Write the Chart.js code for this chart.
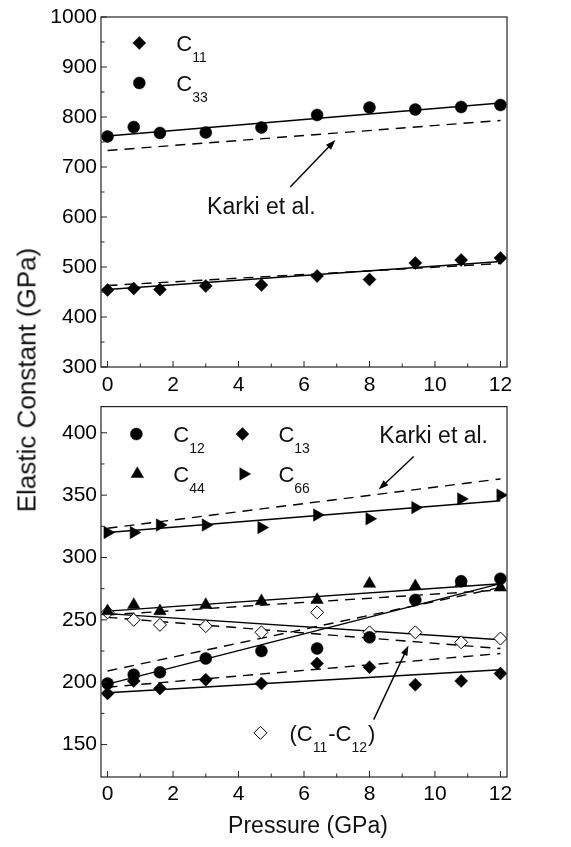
<!DOCTYPE html>
<html lang="en">
<head>
  <meta charset="UTF-8" />
  <script src="https://cdn.jsdelivr.net/npm/chart.js"></script>
  <title>Elastic constants vs pressure</title>
  <style>
    body { margin: 0; background: #fff; }
    .wrap { position: relative; width: 571px; height: 847px; font-family: "Liberation Sans", Arial, sans-serif; }
    canvas { position: absolute; left: 0; }
    #topChart { top: 0; }
    #bottomChart { top: 390px; }
    .ytitle { position: absolute; left: 27px; top: 380px; transform: translate(-50%, -50%) rotate(-90deg); font-size: 26px; white-space: nowrap; color: #111; }
    .xtitle { position: absolute; left: 308px; top: 825px; transform: translate(-50%, -50%); font-size: 23px; white-space: nowrap; color: #111; }
  </style>
</head>
<body>
  <div class="wrap">
    <canvas id="topChart" width="571" height="400"></canvas>
    <canvas id="bottomChart" width="571" height="457"></canvas>
    <div class="ytitle">Elastic Constant (GPa)</div>
    <div class="xtitle">Pressure (GPa)</div>
  </div>

<script>
  // pressure points (GPa)
  var pressure = [0, 0.8, 1.6, 3.0, 4.7, 6.4, 8.0, 9.4, 10.8, 12.0]

  // top panel
  var c11 = [454, 457, 455, 462, 464, 482, 475, 508, 514, 518]
  var c33 = [761, 780, 768, 769, 779, 804, 819, 815, 820, 824]

  // bottom panel
  var c12 = [199, 206, 208, 219, 225, 227, 236, 266, 281, 283]
  var c13 = [191, 201, 195, 202, 199, 215, 212, 198, 201, 207]
  var c44 = [257, 262, 257, 262, 265, 266, 279, 277, 280, 276]
  var c66 = [320, 320, 326, 326, 324, 334, 331, 340, 347, 350]
  var c11mc12 = [256, 250, 246, 245, 240, 256, 240, 240, 232, 235]

  // linear fits (this work, solid) and Karki et al. (dashed), values at 0 and 12 GPa
  var fitX = [0, 12]
  var c11Fit = [455, 511], c11Karki = [463, 507]
  var c33Fit = [762, 828], c33Karki = [733, 793]
  var c12Fit = [198.5, 279], c12Karki = [209, 276]
  var c13Fit = [191.5, 210], c13Karki = [196, 223]
  var c44Fit = [257, 279], c44Karki = [254, 274]
  var c66Fit = [320, 345.5], c66Karki = [323.5, 363]
  var c11mc12Fit = [255, 234], c11mc12Karki = [252, 227]

  // tick labels
  var xTicks = [0, 2, 4, 6, 8, 10, 12]
  var topYTicks = [300, 400, 500, 600, 700, 800, 900, 1000]
  var bottomYTicks = [150, 200, 250, 300, 350, 400]

  var FONT = '"Liberation Sans", Arial, sans-serif'

  function pts(xs, ys) {
    return xs.map((v, i) => ({ x: v, y: ys[i] }))
  }

  function markers(ys, style, radius, rotation, open) {
    return {
      data: pts(pressure, ys),
      pointStyle: style,
      pointRadius: radius,
      pointHoverRadius: radius,
      pointRotation: rotation || 0,
      pointBackgroundColor: open ? '#fff' : '#000',
      pointBorderColor: '#000',
      pointBorderWidth: open ? 1 : 0.5,
      showLine: false
    }
  }

  function fitLine(ys, dashed) {
    return {
      data: pts(fitX, ys),
      showLine: true,
      borderColor: '#000',
      borderWidth: 1.4,
      borderDash: dashed ? [10, 7] : [],
      pointRadius: 0,
      pointHoverRadius: 0
    }
  }

  function drawMarker(ctx, style, radius, rotation, open, x, y) {
    ctx.fillStyle = open ? '#fff' : '#000'
    ctx.strokeStyle = '#000'
    ctx.lineWidth = open ? 1 : 0.5
    Chart.helpers.drawPoint(ctx, { pointStyle: style, radius: radius, rotation: rotation, borderWidth: ctx.lineWidth }, x, y)
  }

  // text with subscripts, returns end x
  function drawSubText(ctx, parts, x, y) {
    parts.forEach(p => {
      ctx.font = (p.sub ? '14px ' : '22px ') + FONT
      ctx.fillText(p.t, x, p.sub ? y + 13 : y)
      x += ctx.measureText(p.t).width + (p.sub ? 1 : 0)
    })
    return x
  }

  function arrow(ctx, x1, y1, x2, y2) {
    var ang = Math.atan2(y2 - y1, x2 - x1)
    ctx.beginPath()
    ctx.moveTo(x1, y1)
    ctx.lineTo(x2 - Math.cos(ang) * 6, y2 - Math.sin(ang) * 6)
    ctx.lineWidth = 1.4
    ctx.strokeStyle = '#000'
    ctx.stroke()
    ctx.beginPath()
    ctx.moveTo(x2, y2)
    ctx.lineTo(x2 - Math.cos(ang) * 10 + Math.sin(ang) * 3.5, y2 - Math.sin(ang) * 10 - Math.cos(ang) * 3.5)
    ctx.lineTo(x2 - Math.cos(ang) * 10 - Math.sin(ang) * 3.5, y2 - Math.sin(ang) * 10 + Math.cos(ang) * 3.5)
    ctx.closePath()
    ctx.fillStyle = '#000'
    ctx.fill()
  }

  // frame, inward ticks, legend and notes
  var framePlugin = {
    id: 'frame',
    afterDatasetsDraw(chart, args, opts) {
      var ctx = chart.ctx
      var a = chart.chartArea
      var x = chart.scales.x
      var y = chart.scales.y
      ctx.save()
      ctx.strokeStyle = '#222'
      ctx.lineWidth = 1.2
      ctx.strokeRect(a.left, a.top, a.right - a.left, a.bottom - a.top)

      ctx.beginPath()
      for (var v = 0; v <= 12; v++) {
        var px = x.getPixelForValue(v)
        ctx.moveTo(px, a.bottom)
        ctx.lineTo(px, a.bottom - (v % 2 ? 3.5 : 6))
      }
      var yt = opts.yTicks
      var half = (yt[1] - yt[0]) / 2
      for (var i = 0; i < yt.length; i++) {
        [yt[i], yt[i] + half].forEach((val, k) => {
          if (val > y.max || val < y.min) return
          var py = y.getPixelForValue(val)
          ctx.moveTo(a.left, py)
          ctx.lineTo(a.left + (k ? 3.5 : 6), py)
        })
      }
      ctx.lineWidth = 1
      ctx.stroke()

      ctx.textBaseline = 'middle'
      opts.legend.forEach(it => {
        var mx = x.getPixelForValue(it.x)
        var my = y.getPixelForValue(it.y)
        drawMarker(ctx, it.style, it.r, it.rot || 0, it.open, mx, my)
        ctx.fillStyle = '#111'
        ctx.textAlign = 'left'
        drawSubText(ctx, it.label, mx + it.dx, my + 2)
      })

      opts.notes.forEach(n => {
        ctx.fillStyle = '#111'
        ctx.font = '23px ' + FONT
        ctx.textAlign = 'center'
        ctx.fillText(n.text, x.getPixelForValue(n.x), y.getPixelForValue(n.y))
        arrow(ctx, x.getPixelForValue(n.from[0]), y.getPixelForValue(n.from[1]),
          x.getPixelForValue(n.to[0]), y.getPixelForValue(n.to[1]))
      })
      ctx.restore()
    }
  }

  function makeOptions(yMin, yMax, yTicks, frameOpts, area) {
    return {
      animation: false,
      responsive: false,
      events: [],
      layout: { padding: { left: 0, right: 64, top: area.top, bottom: 0 } },
      plugins: {
        legend: { display: false },
        tooltip: { enabled: false },
        frame: Object.assign({ yTicks: yTicks }, frameOpts)
      },
      scales: {
        x: {
          type: 'linear',
          min: -0.2,
          max: 12.2,
          grid: { display: false, drawTicks: false },
          border: { display: false },
          afterBuildTicks: s => { s.ticks = xTicks.map(v => ({ value: v })) },
          afterFit: s => { s.height = area.xh },
          ticks: { color: '#000', padding: area.xpad, maxRotation: 0, font: { size: 21, family: FONT },
            callback: v => String(v) }
        },
        y: {
          type: 'linear',
          min: yMin,
          max: yMax,
          grid: { display: false, drawTicks: false },
          border: { display: false },
          afterBuildTicks: s => { s.ticks = yTicks.map(v => ({ value: v })) },
          afterFit: s => { s.width = 101 },
          ticks: { color: '#000', padding: 4, font: { size: 21, family: FONT },
            callback: v => String(v) }
        }
      }
    }
  }

  new Chart(document.getElementById('topChart'), {
    type: 'scatter',
    data: {
      datasets: [
        markers(c11, 'rectRot', 6.5),
        markers(c33, 'circle', 6),
        fitLine(c11Fit, false),
        fitLine(c11Karki, true),
        fitLine(c33Fit, false),
        fitLine(c33Karki, true)
      ]
    },
    options: makeOptions(300, 1000, topYTicks, {
      legend: [
        { x: 0.97, y: 948, style: 'rectRot', r: 6.5, dx: 37, label: [{ t: 'C' }, { t: '11', sub: true }] },
        { x: 0.97, y: 868, style: 'circle', r: 6, dx: 37, label: [{ t: 'C' }, { t: '33', sub: true }] }
      ],
      notes: [
        { text: 'Karki et al.', x: 4.7, y: 618, from: [5.58, 660], to: [6.96, 754] }
      ]
    }, { top: 17, xh: 33, xpad: 6 }),
    plugins: [framePlugin]
  })

  new Chart(document.getElementById('bottomChart'), {
    type: 'scatter',
    data: {
      datasets: [
        markers(c12, 'circle', 6),
        markers(c13, 'rectRot', 6.5),
        markers(c44, 'triangle', 7.2),
        markers(c66, 'triangle', 7.2, 90),
        markers(c11mc12, 'rectRot', 6.5, 0, true),
        fitLine(c12Fit, false),
        fitLine(c12Karki, true),
        fitLine(c13Fit, false),
        fitLine(c13Karki, true),
        fitLine(c44Fit, false),
        fitLine(c44Karki, true),
        fitLine(c66Fit, false),
        fitLine(c66Karki, true),
        fitLine(c11mc12Fit, false),
        fitLine(c11mc12Karki, true)
      ]
    },
    options: makeOptions(124, 421, bottomYTicks, {
      legend: [
        { x: 0.88, y: 399, style: 'circle', r: 6, dx: 37, label: [{ t: 'C' }, { t: '12', sub: true }] },
        { x: 4.12, y: 399, style: 'rectRot', r: 6.5, dx: 36, label: [{ t: 'C' }, { t: '13', sub: true }] },
        { x: 0.91, y: 367, style: 'triangle', r: 7.2, dx: 36, label: [{ t: 'C' }, { t: '44', sub: true }] },
        { x: 4.15, y: 367, style: 'triangle', r: 7.2, rot: 90, dx: 35, label: [{ t: 'C' }, { t: '66', sub: true }] },
        { x: 4.67, y: 159.4, style: 'rectRot', r: 6.5, open: true, dx: 29,
          label: [{ t: '(C' }, { t: '11', sub: true }, { t: '-C' }, { t: '12', sub: true }, { t: ')' }] }
      ],
      notes: [
        { text: 'Karki et al.', x: 9.96, y: 397, from: [9.35, 381], to: [8.28, 354.5] },
        { text: '', x: 9, y: 170, from: [8.13, 170], to: [9.19, 229.5] }
      ]
    }, { top: 7, xh: 70, xpad: 5 }),
    plugins: [framePlugin]
  })
</script>
</body>
</html>
